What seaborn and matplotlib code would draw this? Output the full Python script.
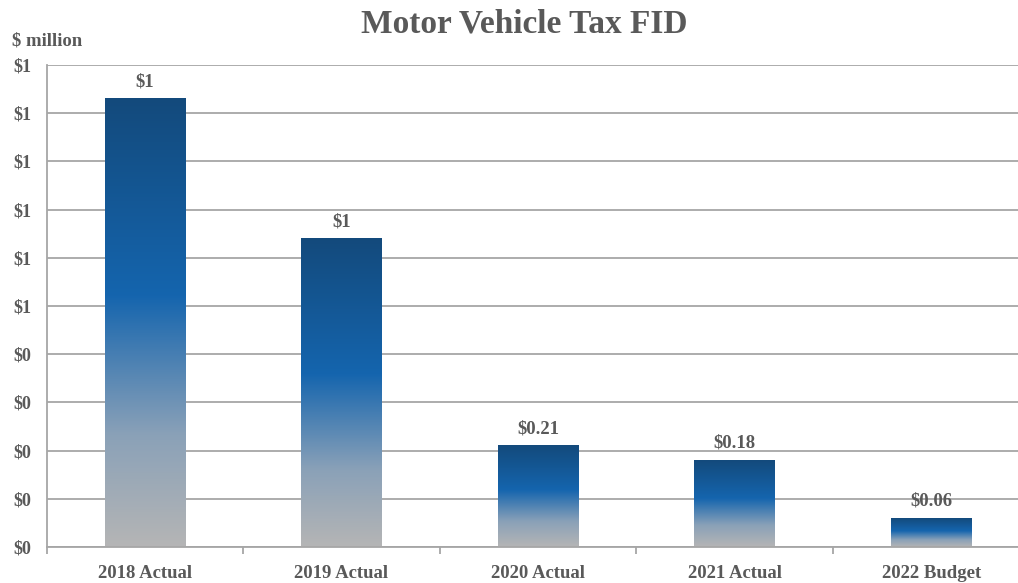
import math

import matplotlib.pyplot as plt
import numpy as np
import seaborn as sns
from matplotlib.colors import LinearSegmentedColormap
from matplotlib.ticker import FuncFormatter, FixedLocator

categories = ["2018 Actual", "2019 Actual", "2020 Actual", "2021 Actual", "2022 Budget"]
values = [0.93, 0.64, 0.21, 0.18, 0.06]
bar_labels = ["$1", "$1", "$0.21", "$0.18", "$0.06"]
y_ticks = [0.0, 0.1, 0.2, 0.3, 0.4, 0.5, 0.6, 0.7, 0.8, 0.9, 1.0]

TEXT = "#595959"
GRID = "#a6a6a6"

sns.set_theme(style="white")
plt.rcParams["font.family"] = ["Liberation Serif", "DejaVu Serif"]
plt.rcParams["font.weight"] = "bold"

fig = plt.figure(figsize=(10.18, 5.83), dpi=100)
ax = fig.add_axes([0.0458, 0.0617, 0.9657, 0.8268])

sns.barplot(x=categories, y=values, width=0.41, color="#1565b0", ax=ax)

# gradient fill: gray at base -> bright blue -> dark navy at top
grad = LinearSegmentedColormap.from_list(
    "bar_grad",
    [(0.0, "#b5b5b5"), (0.25, "#8aa1b8"), (0.56, "#1565ae"), (1.0, "#134a7c")],
)
ramp = np.linspace(0, 1, 256).reshape(-1, 1)
for patch in ax.patches:
    x0, w, h = patch.get_x(), patch.get_width(), patch.get_height()
    ax.imshow(ramp, cmap=grad, aspect="auto", origin="lower",
              extent=[x0, x0 + w, 0, h], zorder=2)
    patch.set_facecolor("none")
    patch.set_edgecolor("none")

for i, (v, lab) in enumerate(zip(values, bar_labels)):
    ax.annotate(lab, (i, v), xytext=(0, 6), textcoords="offset points",
                ha="center", va="bottom", fontsize=13.5, color=TEXT,
                fontweight="bold")

ax.set_xlim(-0.5, len(categories) - 0.5)
ax.set_ylim(0, 1.0)
ax.yaxis.set_major_locator(FixedLocator(y_ticks))
ax.yaxis.set_major_formatter(FuncFormatter(lambda v, p: f"${math.floor(v + 0.5 + 1e-9)}"))
ax.grid(axis="y", color=GRID, linewidth=1.3, zorder=0)
ax.set_axisbelow(True)

# category ticks sit on the boundaries between groups
ax.set_xticks(np.arange(len(categories)))
ax.set_xticklabels(categories)
ax.set_xticks(np.arange(len(categories) + 1) - 0.5, minor=True)
ax.tick_params(axis="x", which="major", length=0, pad=13, labelsize=13.5, labelcolor=TEXT)
ax.tick_params(axis="x", which="minor", length=5, color=GRID, width=1.3, direction="out")
ax.tick_params(axis="y", length=5, color=GRID, width=1.3, direction="out",
               pad=6, labelsize=13, labelcolor=TEXT)
ax.tick_params(axis="x", which="both", bottom=True)

for side in ["top", "right"]:
    ax.spines[side].set_visible(False)
for side in ["left", "bottom"]:
    ax.spines[side].set_color(GRID)
    ax.spines[side].set_linewidth(1.3)

ax.set_xlabel("")
ax.set_ylabel("")

fig.text(0.515, 0.958, "Motor Vehicle Tax FID", ha="center", va="center",
         fontsize=24, fontweight="bold", color=TEXT)
fig.text(0.012, 0.929, "$ million", ha="left", va="center",
         fontsize=13.5, fontweight="bold", color=TEXT)

plt.savefig("out.png", dpi=100)
